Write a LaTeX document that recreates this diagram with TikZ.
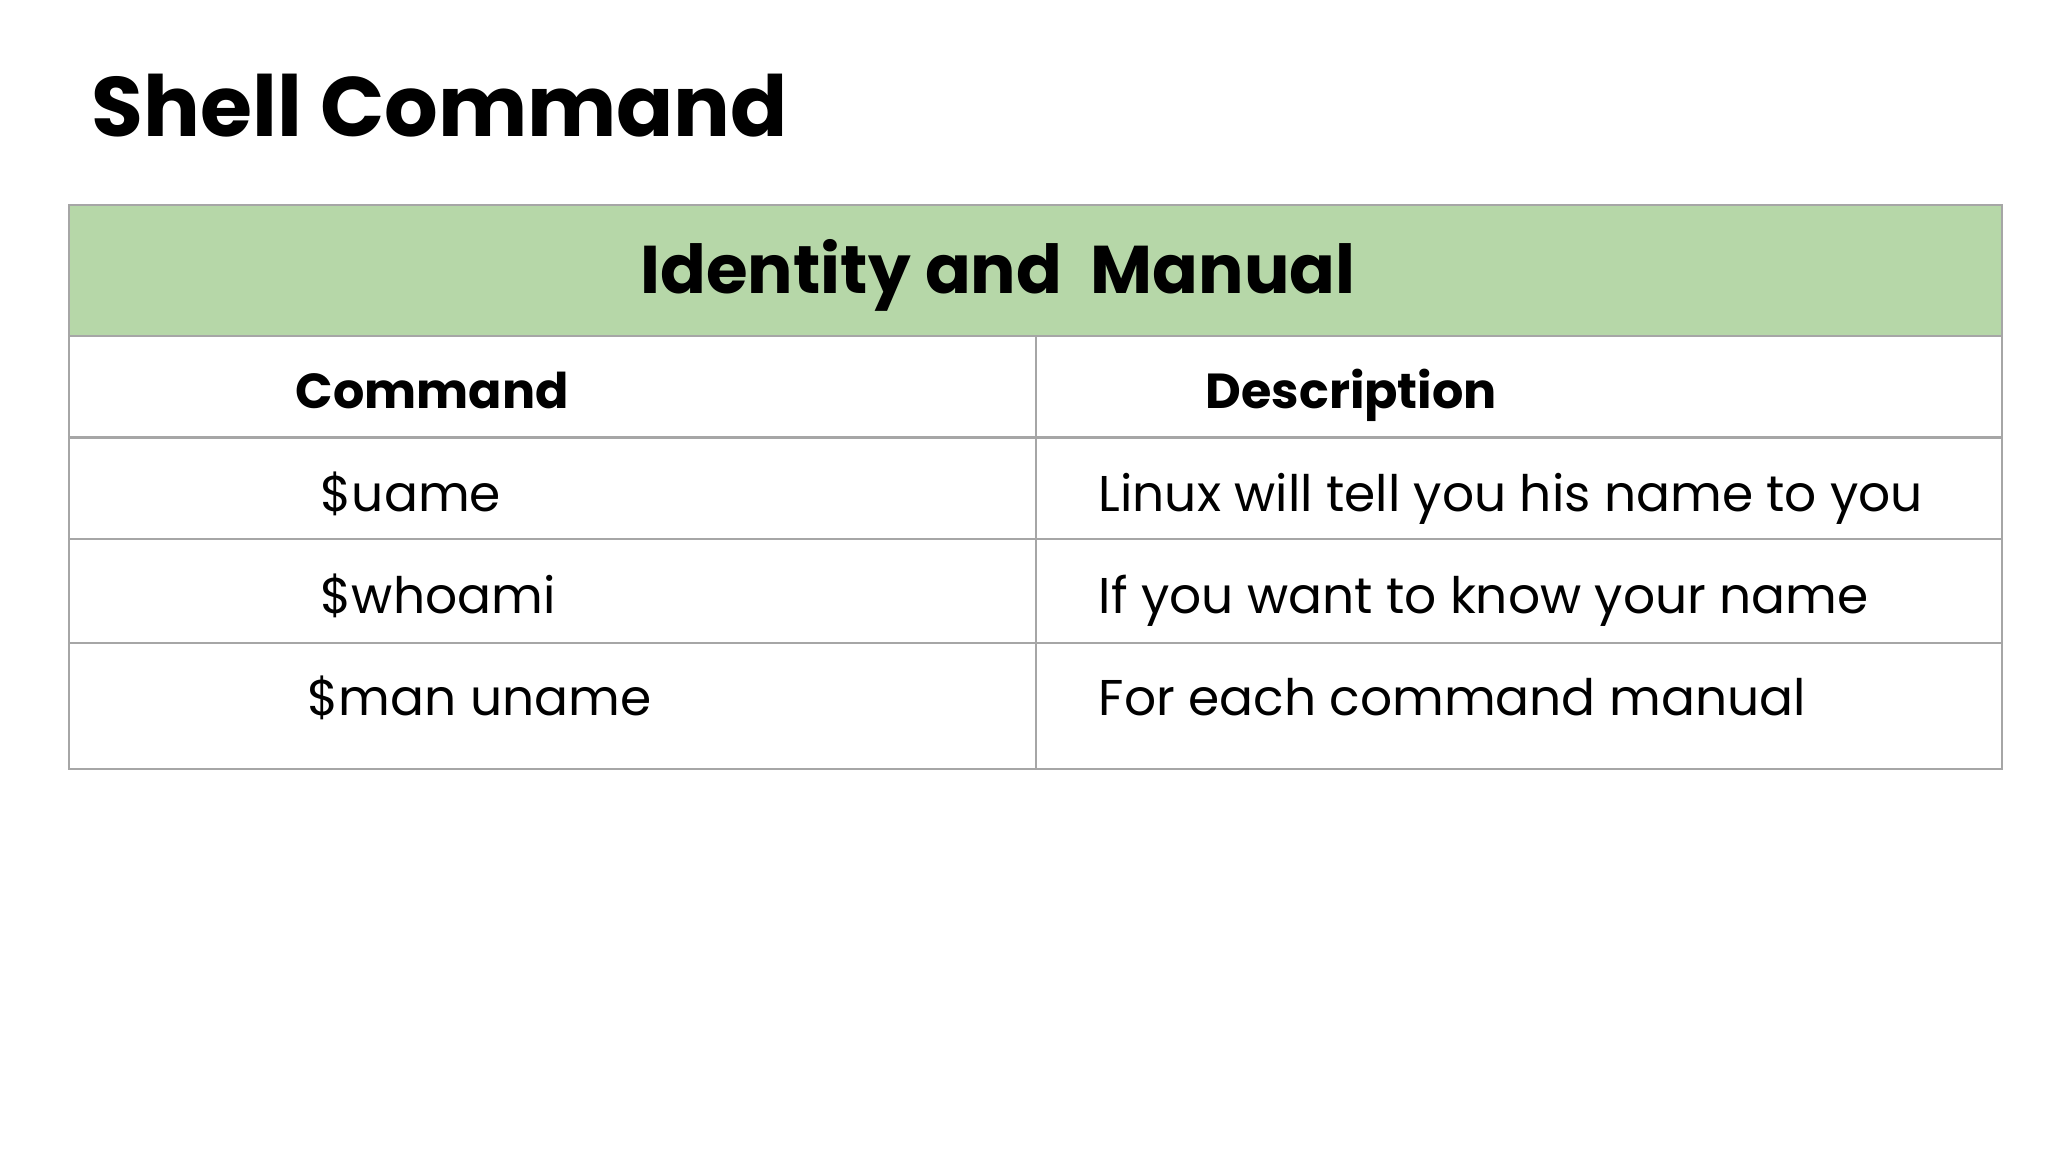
\documentclass[tikz,border=0pt]{standalone}
\usepackage{fontspec}
\setmainfont{Poppins}
\definecolor{hdgreen}{HTML}{B6D7A8}
\definecolor{rulegray}{HTML}{A6A6A6}
\begin{document}
\begin{tikzpicture}[x=1cm,y=-1cm,
  cell/.style={draw=rulegray, line width=0.8pt},
  txt/.style={anchor=base west, inner sep=0pt, font=\fontsize{14.3}{17}\selectfont},
  colhead/.style={anchor=base west, inner sep=0pt, font=\bfseries\fontsize{14}{17}\selectfont}]

\useasboundingbox (0,0) rectangle (20.48,11.52);

% title
\draw (0.91,1.37) node (title) [anchor=base west, inner sep=0pt, font=\bfseries\fontsize{24}{28}\selectfont] {Shell Command};

% table
\fill [hdgreen] (0.69,2.05) rectangle (20.02,3.36);
\draw [cell] (0.69,2.05) rectangle (20.02,7.69);
\draw [cell] (0.69,3.36) -- (20.02,3.36);
\draw [cell] (0.69,4.375) -- (20.02,4.375);
\draw [cell] (0.69,5.39) -- (20.02,5.39);
\draw [cell] (0.69,6.43) -- (20.02,6.43);
\draw [cell] (10.36,3.36) -- (10.36,7.69);

\draw (9.98,2.94) node (hd) [anchor=base, inner sep=0pt, font=\bfseries\fontsize{19.2}{22}\selectfont] {Identity and\ \ Manual};

\draw (2.95,4.09) node (ccmd) [colhead] {Command};
\draw (12.05,4.09) node (cdesc) [colhead] {Description};

\draw (3.20,5.12) node (c1) [txt] {\$uame};
\draw (10.98,5.12) node (d1) [txt] {Linux will tell you his name to you};
\draw (3.20,6.14) node (c2) [txt] {\$whoami};
\draw (10.98,6.14) node (d2) [txt] {If you want to know your name};
\draw (3.07,7.16) node (c3) [txt] {\$man uname};
\draw (10.98,7.16) node (d3) [txt] {For each command manual};

\end{tikzpicture}
\end{document}
